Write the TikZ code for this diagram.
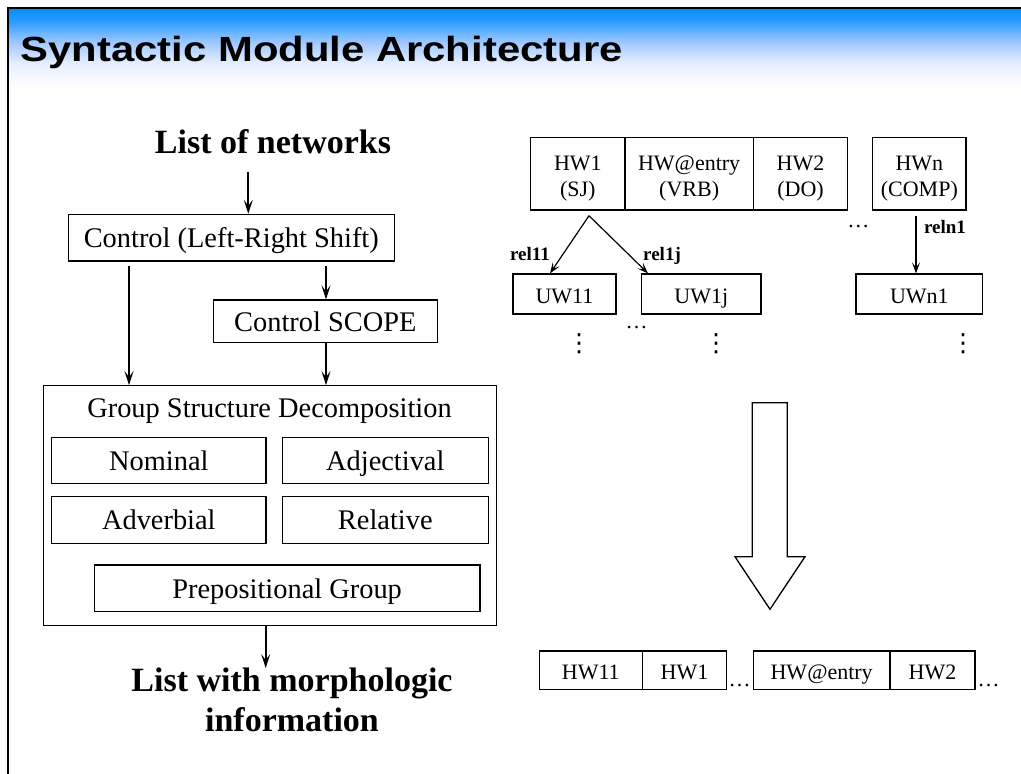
\documentclass[tikz,border=0pt]{standalone}
\usepackage{fontspec}
\setmainfont{Liberation Serif}
\newfontfamily\titlefont{Liberation Sans}
\newfontfamily\symfont{DejaVu Sans}
\usetikzlibrary{arrows.meta}
\definecolor{tbtop}{RGB}{0,140,255}
\definecolor{tbA}{RGB}{40,155,255}
\definecolor{tbB}{RGB}{160,200,255}
\definecolor{tbC}{RGB}{228,238,255}
\pgfdeclareverticalshading{titlebar}{100bp}{color(0bp)=(white); color(25bp)=(white); color(40bp)=(tbC); color(53bp)=(tbB); color(67bp)=(tbA); color(75bp)=(tbtop); color(100bp)=(tbtop)}
\newcommand{\twoline}[2]{\begin{tabular}[b]{@{}c@{}}#1\\#2\end{tabular}}
\begin{document}
\begin{tikzpicture}[x=1pt,y=-1pt,
  box/.style={draw, line width=1.2pt, inner sep=0pt, fill=white},
  bigtxt/.style={font=\fontsize{28.4}{32}\selectfont, text height=22.7pt, text depth=3.3pt},
  smalltxt/.style={font=\fontsize{22}{26}\selectfont, text height=20pt, text depth=1.4pt},
  celltxt/.style={font=\fontsize{22}{26}\selectfont, text height=44.7pt, text depth=0pt},
  headtxt/.style={font=\fontsize{34}{40}\selectfont\bfseries},
  lbl/.style={font=\fontsize{19}{22}\selectfont\bfseries, inner sep=0pt, anchor=base},
  arr/.style={line width=1.7pt, -{Stealth[length=14pt,width=9pt,inset=6pt]}},
  thinarr/.style={line width=1.2pt, -{Stealth[length=11pt,width=8pt,inset=5pt]}},
  dots/.style={font=\fontsize{22}{26}\selectfont, inner sep=0pt, anchor=base},
  vdot/.style={font=\fontsize{25}{30}\selectfont\symfont, inner sep=0pt}
]
\useasboundingbox (0,0) rectangle (1021,774);
\fill[white] (0,0) rectangle (1021,774);
% title bar
\shade[shading=titlebar] (8,8) rectangle (1021,86);
\draw[line width=2pt] (1021,8) -- (8,8) -- (8,774);
\node[anchor=base west, inner sep=0pt, font=\fontsize{35}{40}\selectfont\titlefont\bfseries] (title) at (20.5,61) {\scalebox{1.195}[1]{Syntactic Module Architecture}};

% ---------- left flow ----------
\node[headtxt, anchor=base, inner sep=0pt] (lon) at (273,153) {List of networks};
\node[box, bigtxt, minimum width=326pt, minimum height=46.7pt] (ctrl) at (231.3,237.7) {Control (Left-Right Shift)};
\node[box, bigtxt, minimum width=224pt, minimum height=42.7pt] (scope) at (325.3,321.3) {Control SCOPE};
\node[box, minimum width=453.4pt, minimum height=240pt] (gsd) at (270,505.7) {};
\node[font=\fontsize{28.4}{32}\selectfont, anchor=base, inner sep=0pt] (gsdt) at (269.5,417.7) {Group Structure Decomposition};
\node[box, bigtxt, minimum width=214.3pt, minimum height=46pt] (nom) at (158.85,460.3) {Nominal};
\node[box, bigtxt, minimum width=206pt, minimum height=46pt] (adj) at (385.3,460.3) {Adjectival};
\node[box, bigtxt, minimum width=214.3pt, minimum height=46.6pt] (adv) at (158.85,520) {Adverbial};
\node[box, bigtxt, minimum width=206pt, minimum height=46.6pt] (rel) at (385.3,520) {Relative};
\node[box, bigtxt, minimum width=385.7pt, minimum height=46.7pt] (prep) at (287.15,588.35) {Prepositional Group};
\node[headtxt, align=center, anchor=north, inner sep=0pt] (out) at (292,668) {List with morphologic\\information};

\coordinate (s1) at (248.3,171.7);
\coordinate (s2) at (129,266);
\coordinate (s3) at (326,266);
\coordinate (s4) at (265.7,0);
\draw[arr] (s1) -- (s1 |- ctrl.north);
\draw[arr] (s2) -- (s2 |- gsd.north);
\draw[arr] (s3) -- (s3 |- scope.north);
\draw[arr] (s3 |- scope.south) -- (s3 |- gsd.north);
\draw[arr] (s4 |- gsd.south) -- (s4 |- out.north);

% ---------- right: network ----------
\node[box, celltxt, minimum width=94.3pt, minimum height=72.7pt] (hw1) at (577.85,173.65) {\twoline{HW1}{(SJ)}};
\node[box, celltxt, minimum width=128.3pt, minimum height=72.7pt] (hwe) at (689.15,173.65) {\twoline{HW@entry}{(VRB)}};
\node[box, celltxt, minimum width=94.4pt, minimum height=72.7pt] (hw2) at (800.5,173.65) {\twoline{HW2}{(DO)}};
\node[box, celltxt, minimum width=93.3pt, minimum height=72.7pt] (hwn) at (919.35,173.65) {\twoline{HWn}{(COMP)}};

\node[box, smalltxt, minimum width=103pt, minimum height=40pt] (uw11) at (564.5,294) {UW11};
\node[box, smalltxt, minimum width=119.3pt, minimum height=40pt] (uw1j) at (701.35,294) {UW1j};
\node[box, smalltxt, minimum width=126.7pt, minimum height=40pt] (uwn1) at (919.35,294) {UWn1};

\coordinate (r0) at (589,215.7);
\coordinate (t1) at (550,0);
\coordinate (t2) at (648,0);
\coordinate (rn) at (916,215.7);
\draw[thinarr] (r0) -- (t1 |- uw11.north);
\draw[thinarr] (r0) -- (t2 |- uw1j.north);
\draw[thinarr] (rn) -- (rn |- uwn1.north);

\node[lbl] (l11) at (530,260) {rel11};
\node[lbl] (l1j) at (662,260) {rel1j};
\node[lbl] (ln1) at (945,233.3) {reln1};

\node[dots] (d1) at (858.3,227) {\ldots};
\node[dots] (d2) at (636.5,328) {\ldots};
\node[vdot] (v1) at (579,344) {⋮};
\node[vdot] (v2) at (716,344) {⋮};
\node[vdot] (v3) at (963,344) {⋮};

% big arrow
\draw[line width=1.3pt, line join=miter] (752.3,402.7) -- (787.3,402.7) -- (787.3,556.7) -- (805,556.7) -- (770,609.3) -- (735,556.7) -- (752.3,556.7) -- cycle;

% ---------- bottom row ----------
\node[box, smalltxt, minimum width=103pt, minimum height=38.5pt] (b1) at (590.8,670.2) {HW11};
\node[box, smalltxt, minimum width=84.4pt, minimum height=38.5pt] (b2) at (684.5,670.2) {HW1};
\node[box, smalltxt, minimum width=136.7pt, minimum height=38.5pt] (b3) at (821.65,670.2) {HW@entry};
\node[box, smalltxt, minimum width=85pt, minimum height=38.5pt] (b4) at (932.5,670.2) {HW2};
\node[dots] (d3) at (739.5,686) {\ldots};
\node[dots] (d4) at (988.5,686) {\ldots};
\end{tikzpicture}
\end{document}
